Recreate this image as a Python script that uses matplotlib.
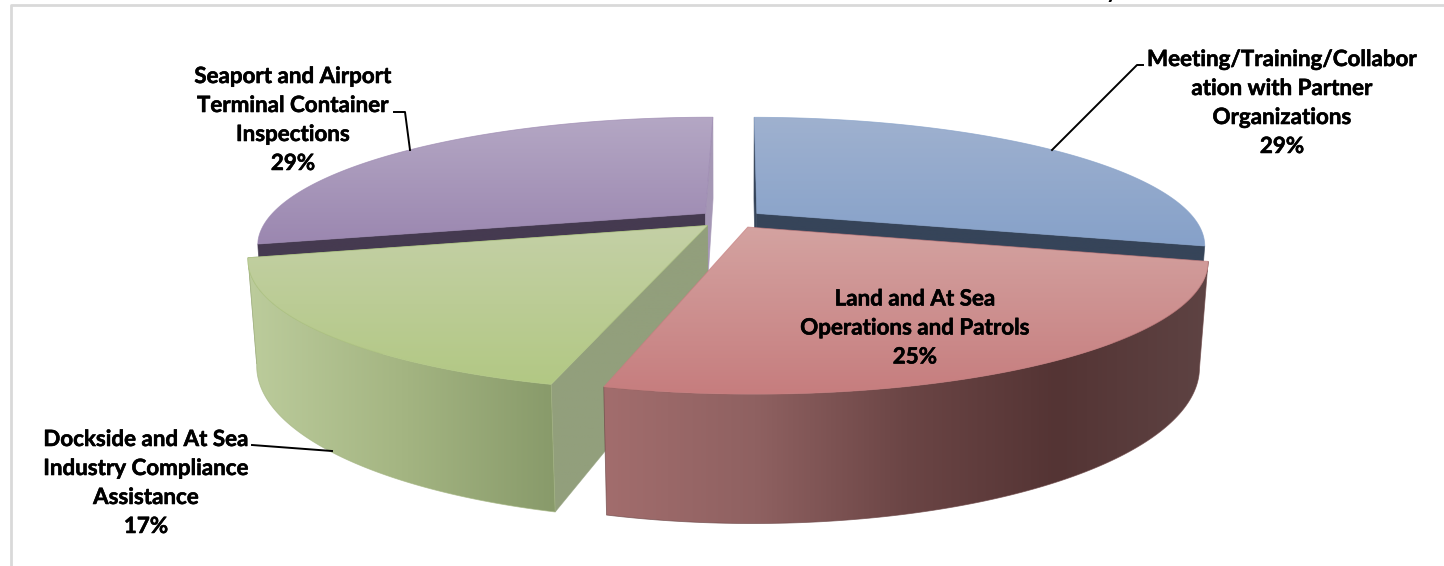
import numpy as np
import matplotlib
matplotlib.use('Agg')
import matplotlib.pyplot as plt
from matplotlib.colors import LinearSegmentedColormap
from matplotlib.patches import Polygon
from matplotlib.patheffects import withStroke

plt.rcParams['font.family'] = ['Lato', 'DejaVu Sans']

labels = ["Meeting/Training/Collabor\nation with Partner\nOrganizations",
          "Land and At Sea\nOperations and Patrols",
          "Dockside and At Sea\nIndustry Compliance\nAssistance",
          "Seaport and Airport\nTerminal Container\nInspections"]
shares = [29, 25, 17, 29]

top_colors = [('#9fb1cf', '#86a1c9'), ('#d4a3a1', '#c67d7e'),
              ('#c4d0a6', '#b2c884'), ('#b4a7c4', '#9b87b0')]
wall_colors = [['#3a4a60', '#3a4a60'],
               ['#a26d6d', '#8f6161', '#6b4545', '#543434', '#5e4343'],
               ['#bccc9c', '#a4b582', '#889a6a'],
               ['#453a50', '#453a50']]
cut_colors = ['#364459', '#8f7fa0', '#929f7c', '#a597b5']
back_cut = ['#364459', None, '#929f7c', '#453a50']

# projection of the tilted disc, in pixels
CX, CY = 731, 219
A, B, H = 438, 122, 101
K, D = 0.243, 0.017
EXPLODE = 0.075
ROTATE = 0.4


def project(x, y, t=0.0):
    s = 1 / (1 - K * y + D * t)
    return CX + A * x * s, CY + (B * y + H * t) * s


def rim(a0, a1, off, t=0.0):
    th = np.radians(np.linspace(a0, a1, 120) + ROTATE)
    px, py = project(np.sin(th) + off[0], -np.cos(th) + off[1], t)
    return np.column_stack([px, py])


zc = [1]


def next_z():
    zc[0] += 1
    return zc[0]


def fill(ax, pts, colors, vertical=True):
    # gradient image clipped by the face outline
    cmap = LinearSegmentedColormap.from_list('f', colors)
    x0, y0 = pts.min(axis=0)
    x1, y1 = pts.max(axis=0)
    g = np.linspace(0, 1, 256)
    g = g[:, None] if vertical else g[None, :]
    im = ax.imshow(g, cmap=cmap, extent=(x0, x1, y1, y0), origin='upper',
                   aspect='auto', zorder=next_z())
    poly = Polygon(pts, closed=True, fc='none', ec='none', transform=ax.transData)
    ax.add_patch(poly)
    im.set_clip_path(poly)
    edge = Polygon(pts, closed=True, fc='none', ec=colors[len(colors) // 2], lw=0.6,
                   alpha=0.7, zorder=next_z())
    ax.add_patch(edge)


fig = plt.figure(figsize=(14.44, 5.66), dpi=100)
ax = fig.add_axes([0, 0, 1, 1])
ax.set_xlim(0, 1444)
ax.set_ylim(566, 0)
ax.axis('off')

# chart frame
ax.plot([10.5, 10.5, 1444], [566, 5, 5], color='#d9d9d9', lw=2, zorder=0)
ax.text(1112, -2, 'y', fontsize=16, fontweight='bold', ha='center', va='baseline')

edges = np.cumsum([0] + shares) / sum(shares) * 360

for i in [3, 0, 2, 1]:
    a0, a1 = edges[i], edges[i + 1]
    mid = np.radians((a0 + a1) / 2 + ROTATE)
    off = (EXPLODE * np.sin(mid), -EXPLODE * np.cos(mid))
    apex_top = np.array(project(off[0], off[1]))
    apex_bot = np.array(project(off[0], off[1], 1.0))

    # flat cut faces
    if back_cut[i]:
        end = rim(a0, a0, off)[0]
        endb = rim(a0, a0, off, 1.0)[0]
        fill(ax, np.array([apex_top, end, endb, apex_bot]), [back_cut[i], back_cut[i]])
    if i != 1:
        end = rim(a1, a1, off)[0]
        endb = rim(a1, a1, off, 1.0)[0]
        fill(ax, np.array([apex_top, end, endb, apex_bot]), [cut_colors[i], cut_colors[i]])

    # outer wall, then the top face
    top_arc = rim(a0, a1, off)
    bot_arc = rim(a0, a1, off, 1.0)
    if i in (1, 2):
        fill(ax, np.vstack([top_arc, bot_arc[::-1]]), wall_colors[i], vertical=False)
    fill(ax, np.vstack([apex_top, top_arc]), top_colors[i])

z = 200
txt = dict(fontsize=16.1, fontweight='bold', ha='center', va='center',
           linespacing=1.47, zorder=z, color='black',
           path_effects=[withStroke(linewidth=0.4, foreground='black')])
ax.text(1282, 103, labels[0] + "\n%d%%" % shares[0], **txt)
ax.text(915, 328, labels[1] + "\n%d%%" % shares[1], **txt)
ax.text(146, 483, labels[2] + "\n%d%%" % shares[2], **txt)
ax.text(293, 120, labels[3] + "\n%d%%" % shares[3], **txt)

# leader lines
line = dict(color='black', lw=1.4, zorder=z)
ax.plot([1052, 1137, 1143], [150, 65, 65], **line)
ax.plot([410, 405, 394], [150, 112, 112], **line)
ax.plot([332, 252], [451, 445], **line)

fig.savefig('out.png', dpi=100)
